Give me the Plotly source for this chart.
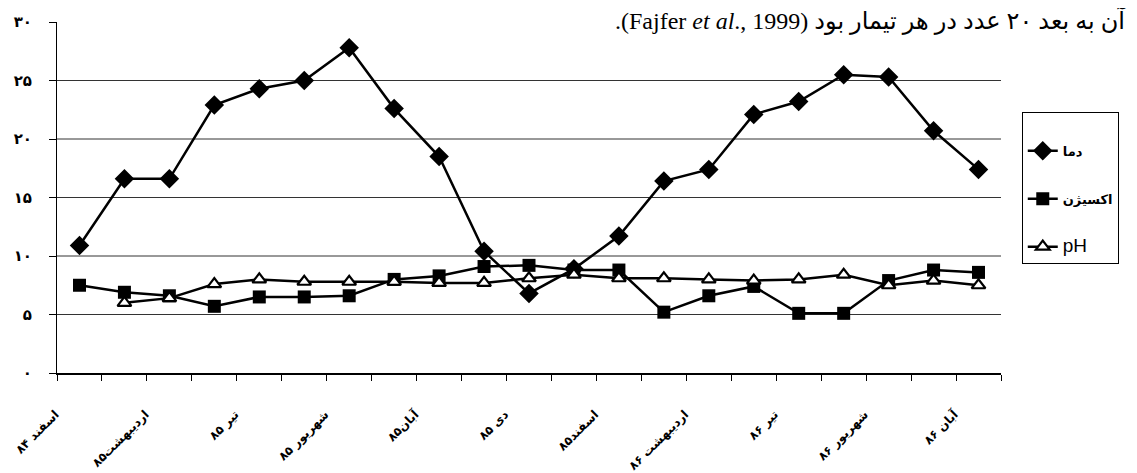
import plotly.graph_objects as go

# ---- data ----
months = ["اسفند ۸۴", "فروردین ۸۵", "اردیبهشت۸۵", "خرداد ۸۵", "تیر ۸۵", "مرداد ۸۵",
          "شهریور ۸۵", "مهر ۸۵", "آبان۸۵", "آذر ۸۵", "دی ۸۵", "بهمن ۸۵", "اسفند۸۵",
          "فروردین ۸۶", "اردیبهشت ۸۶", "خرداد ۸۶", "تیر ۸۶", "مرداد ۸۶", "شهریور ۸۶",
          "مهر ۸۶", "آبان ۸۶"]
shown_labels = ["اسفند ۸۴", "", "اردیبهشت۸۵", "", "تیر ۸۵", "", "شهریور ۸۵", "", "آبان۸۵", "",
                "دی ۸۵", "", "اسفند۸۵", "", "اردیبهشت ۸۶", "", "تیر ۸۶", "", "شهریور ۸۶", "",
                "آبان ۸۶"]
temperature = [10.9, 16.6, 16.6, 22.9, 24.3, 25.0, 27.8, 22.6, 18.5, 10.4, 6.8,
               8.9, 11.7, 16.4, 17.4, 22.1, 23.2, 25.5, 25.3, 20.7, 17.4]
oxygen = [7.5, 6.9, 6.6, 5.7, 6.5, 6.5, 6.6, 8.0, 8.3, 9.1, 9.2,
          8.8, 8.8, 5.2, 6.6, 7.4, 5.1, 5.1, 7.9, 8.8, 8.6]
ph = [None, 6.0, 6.4, 7.6, 8.0, 7.8, 7.8, 7.8, 7.7, 7.7, 8.1,
      8.4, 8.1, 8.1, 8.0, 7.9, 8.0, 8.4, 7.5, 7.9, 7.5]
series_names = ["دما", "اکسیژن", "pH"]
y_ticks = [0, 5, 10, 15, 20, 25, 30]
y_tick_labels = ["۰", "۵", "۱۰", "۱۵", "۲۰", "۲۵", "۳۰"]
grid_levels = [5, 10, 15, 20, 25]
caption = "آن به بعد ۲۰ عدد در هر تیمار بود (Fajfer <i>et al</i>., 1999)."

fig = go.Figure()
fig.add_trace(go.Scatter(
    x=months, y=temperature, name=series_names[0], mode="lines+markers",
    legendgroup="a",
    line=dict(color="black", width=2.5),
    marker=dict(symbol="diamond", size=15, color="black")))
fig.add_trace(go.Scatter(
    x=months, y=oxygen, name=series_names[1], mode="lines+markers",
    legendgroup="b",
    line=dict(color="black", width=2.5),
    marker=dict(symbol="square", size=13, color="black")))
fig.add_trace(go.Scatter(
    x=months, y=ph,
    name="<span style='font-family:Liberation Sans;font-weight:normal;font-size:19px'>"
         + series_names[2] + "</span>",
    mode="lines+markers",
    legendgroup="c",
    line=dict(color="black", width=2.5),
    marker=dict(symbol="triangle-up", size=12, color="white",
                line=dict(color="black", width=2.2))))

for g in grid_levels:
    fig.add_shape(type="line", xref="paper", yref="y", x0=0, x1=1, y0=g, y1=g,
                  line=dict(color="#333", width=1), layer="below")

fig.add_annotation(
    text="\u202b" + caption + "\u202c", xref="paper", yref="paper",
    x=1.1345, y=1.004, xanchor="right", yanchor="middle", showarrow=False,
    font=dict(family="Liberation Serif, DejaVu Sans", size=24, color="black"))

fig.update_layout(
    width=1129, height=465,
    margin=dict(l=49, r=136, t=14, b=100),
    plot_bgcolor="white", paper_bgcolor="white",
    showlegend=True,
    legend=dict(
        x=1.022, xanchor="left", y=0.745, yanchor="top",
        bordercolor="black", borderwidth=1, bgcolor="white",
        tracegroupgap=28,
        font=dict(family="DejaVu Sans", size=13, color="black", weight="bold"),
        title=dict(text=" ", font=dict(size=18)),
    ),
    xaxis=dict(
        type="category", categoryorder="array", categoryarray=months,
        tickmode="array", tickvals=months, ticktext=shown_labels,
        tickson="boundaries", ticks="outside", ticklen=6, tickcolor="black",
        tickangle=-45, ticklabelstandoff=28, ticklabelshift=-24,
        showline=True, linecolor="black", linewidth=1.5,
        showgrid=False, range=[-0.5, 20.5], automargin=False,
        tickfont=dict(family="DejaVu Sans", size=12, color="black", weight="bold"),
    ),
    yaxis=dict(
        range=[0, 30], tickmode="array", tickvals=y_ticks, ticktext=y_tick_labels,
        ticks="outside", ticklen=7, tickcolor="black", ticklabelstandoff=14,
        showline=True, linecolor="black", linewidth=1,
        showgrid=False, zeroline=False, automargin=False,
        tickfont=dict(family="DejaVu Sans", size=15, color="black", weight="bold"),
    ),
)

fig.write_html("out.html")
